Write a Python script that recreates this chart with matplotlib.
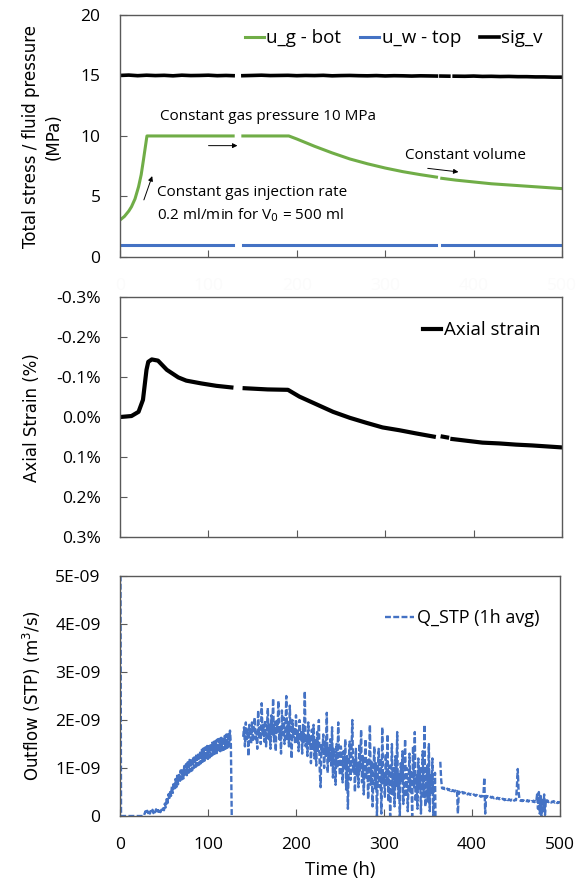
import numpy as np
import matplotlib
matplotlib.use('Agg')
import matplotlib.pyplot as plt
from matplotlib.ticker import FuncFormatter

nan = np.nan

# --- top panel: stress / pressures (MPa) ---
ug_t = [0, 5, 10, 13, 17, 21, 24, 26.5, 28.5, 30.5, 60, 90, 128, nan, 139, 160, 191, 200, 220, 240,
        260, 280, 300, 320, 340, 358, nan, 364, 380, 400, 420, 440, 460, 480, 500]
ug_v = [3.05, 3.35, 3.8, 4.15, 4.8, 5.8, 6.8, 8.0, 9.0, 10.0, 10.0, 10.0, 10.0, nan, 10.0, 10.0, 10.0,
        9.75, 9.15, 8.6, 8.1, 7.7, 7.35, 7.05, 6.8, 6.6, nan, 6.5, 6.35, 6.2, 6.05, 5.95,
        5.85, 5.75, 5.65]

uw_t = [0, 128, nan, 139, 358, nan, 364, 500]
uw_v = [1.0, 1.0, nan, 1.0, 1.0, nan, 1.0, 1.0]

sig_t = [0, 10, 20, 30, 40, 50, 60, 70, 80, 90, 100, 110, 120, 128, nan,
         139, 150, 160, 170, 180, 190, 200, 210, 220, 230, 240, 250, 260, 270, 280,
         290, 300, 310, 320, 330, 340, 350, 358, nan, 363, 372, nan,
         378, 390, 400, 410, 420, 430, 440, 450, 460, 470, 480, 490, 500]
sig_v = [15.0, 15.03, 14.98, 15.02, 14.99, 15.01, 14.97, 15.02, 14.99, 15.0, 15.02, 14.98, 15.0, 14.98, nan,
         14.98, 15.0, 15.02, 14.99, 15.0, 15.01, 14.98, 15.0, 14.99, 15.01, 14.97, 14.99, 15.0, 14.98, 14.97,
         14.99, 14.96, 14.98, 14.97, 14.95, 14.97, 14.96, 14.95, nan, 14.95, 14.94, nan,
         14.94, 14.93, 14.95, 14.92, 14.93, 14.91, 14.92, 14.9, 14.9, 14.88, 14.88, 14.86, 14.86]

# --- middle panel: axial strain (%) ---
ax_t = [0, 13, 21, 26, 30, 32, 36, 43, 53, 66, 75, 92, 109, 126, nan,
        141, 167, 190, 203, 224, 241, 260, 278, 297, 316, 335, 355, nan,
        365, 370, nan, 376, 391, 410, 429, 448, 466, 500]
ax_v = [0.0, -0.0025, -0.013, -0.043, -0.118, -0.138, -0.144, -0.141, -0.118, -0.099, -0.091,
        -0.084, -0.078, -0.074, nan,
        -0.072, -0.069, -0.068, -0.051, -0.030, -0.013, 0.002, 0.014, 0.026, 0.033, 0.041, 0.049, nan,
        0.049, 0.051, nan, 0.055, 0.059, 0.064, 0.066, 0.069, 0.071, 0.076]

# --- bottom panel: outflow (1E-09 m3/s) ---
q0_t = [0, 0.6, 1.2, 27]
q0_v = [5.0, 5.0, 0.0, 0.0]

qa_t = np.arange(28, 127, 1)
qa_v = [0.05, 0.10, 0.04, 0.11, 0.06, 0.12, 0.05, 0.10, 0.07, 0.13, 0.06,
        0.11, 0.08, 0.14, 0.07, 0.12, 0.09, 0.15, 0.08, 0.13, 0.10, 0.16,
        0.12, 0.26, 0.18, 0.35, 0.27, 0.45, 0.34, 0.53, 0.42, 0.62,
        0.48, 0.70, 0.54, 0.77, 0.60, 0.84, 0.66, 0.89, 0.71, 0.95,
        0.76, 0.99, 0.78, 1.04, 0.83, 1.08, 0.85, 1.12, 0.90, 1.17,
        0.93, 1.19, 0.95, 1.23, 1.00, 1.26, 1.02, 1.30, 1.05, 1.32,
        1.07, 1.35, 1.10, 1.38, 1.13, 1.41, 1.15, 1.43, 1.17, 1.46,
        1.19, 1.48, 1.22, 1.51, 1.25, 1.53, 1.28, 1.55, 1.30, 1.57,
        1.31, 1.60, 1.33, 1.61, 1.35, 1.63, 1.37, 1.65, 1.38, 1.67,
        1.40, 1.70, 1.42, 1.74, 1.45, 1.78, 1.50]

qb_t = np.arange(140, 359, 1)
qb_v = [1.65, 1.85, 1.45, 1.95, 1.6, 1.8, 1.25, 1.9, 1.7, 1.5,
        1.95, 1.55, 1.8, 2.05, 1.6, 1.75, 1.4, 2.2, 1.65, 1.85,
        1.5, 2.35, 1.7, 1.9, 1.55, 2.0, 1.45, 1.85, 2.25, 1.6,
        1.9, 1.4, 2.1, 1.7, 2.45, 1.55, 1.95, 1.35, 2.0, 1.75,
        2.4, 1.6, 1.85, 1.3, 2.2, 1.7, 2.05, 1.5, 1.8, 2.5,
        1.6, 1.95, 1.45, 2.3, 1.7, 1.2, 2.0, 1.65, 1.85, 1.5,
        2.1, 1.55, 1.8, 1.35, 2.0, 1.6, 1.75, 1.3, 1.9, 1.55,
        2.6, 1.45, 1.7, 1.25, 1.95, 1.5, 1.65, 1.1, 1.8, 1.4,
        1.9, 1.2, 1.6, 1.05, 1.75, 1.35, 2.0, 0.95, 0.6, 1.5,
        1.3, 1.7, 1.0, 1.55, 1.25, 2.15, 0.9, 1.45, 1.15, 1.6,
        1.05, 1.85, 0.8, 1.4, 1.2, 0.65, 1.5, 1.0, 1.95, 1.1,
        0.85, 1.45, 1.2, 0.7, 1.35, 1.0, 1.6, 0.55, 1.25, 0.15,
        1.15, 1.55, 0.75, 1.3, 2.0, 0.9, 1.2, 0.5, 1.4, 0.85,
        1.1, 0.6, 1.5, 0.95, 1.8, 0.7, 1.25, 0.45, 1.05, 1.6,
        0.8, 1.2, 0.35, 1.0, 1.9, 0.65, 1.15, 0.2, 0.9, 1.45,
        0.55, 1.1, 0.0, 0.95, 1.4, 0.6, 1.2, 0.05, 1.85, 0.7,
        0.9, 0.4, 1.3, 0.65, 1.7, 0.3, 1.05, 0.0, 0.8, 1.5,
        0.45, 1.0, 0.2, 1.25, 0.6, 1.75, 0.35, 0.9, 0.0, 1.1,
        0.7, 1.35, 0.25, 0.85, 1.6, 0.4, 1.0, 0.1, 0.75, 1.3,
        0.5, 0.95, 0.0, 1.45, 0.6, 1.75, 0.3, 0.85, 0.15, 1.2,
        0.55, 1.0, 0.05, 0.8, 1.35, 0.4, 1.9, 0.2, 0.7, 1.05,
        0.3, 1.5, 0.1, 0.85, 0.45, 1.2, 0.0, 0.65, 0.9]

qc_t = np.arange(364, 501, 1)
qc_v = [1.13, 0.75, 0.58, 0.57, 0.59, 0.56, 0.57, 0.55, 0.57, 0.54,   # 364-373
        0.56, 0.53, 0.55, 0.52, 0.54, 0.53, 0.51, 0.53, 0.50, 0.52,   # 374-383
        0.05, 0.51, 0.49, 0.51, 0.48, 0.50, 0.47, 0.49, 0.48, 0.46,   # 384-393
        0.48, 0.45, 0.47, 0.46, 0.44, 0.46, 0.45, 0.43, 0.45, 0.44,   # 394-403
        0.42, 0.44, 0.43, 0.41, 0.43, 0.42, 0.40, 0.42, 0.41, 0.43,   # 404-413
        0.80, 0.05, 0.42, 0.40, 0.41, 0.39, 0.41, 0.40, 0.38, 0.40,   # 414-423
        0.39, 0.37, 0.39, 0.38, 0.36, 0.38, 0.37, 0.35, 0.37, 0.36,   # 424-433
        0.34, 0.36, 0.35, 0.33, 0.35, 0.34, 0.36, 0.33, 0.35, 0.34,   # 434-443
        0.32, 0.34, 0.33, 0.35, 0.32, 0.34, 0.33, 0.60, 0.98, 0.50,   # 444-453
        0.34, 0.32, 0.33, 0.31, 0.33, 0.32, 0.30, 0.32, 0.31, 0.33,   # 454-463
        0.30, 0.32, 0.31, 0.29, 0.31, 0.30, 0.32, 0.29, 0.31, 0.30,   # 464-473
        0.45, 0.15, 0.50, 0.05, 0.42, 0.00, 0.38, 0.10, 0.45, 0.02,   # 474-483
        0.35, 0.30, 0.32, 0.29, 0.31, 0.30, 0.28, 0.30, 0.29, 0.31,   # 484-493
        0.28, 0.30, 0.29, 0.27, 0.29, 0.28, 0.30]                     # 494-500

q_t = np.concatenate([q0_t, qa_t, [127, 133], qb_t, [358.5, 361], qc_t])
q_v = np.concatenate([q0_v, qa_v, [0.0, nan], qb_v, [0.0, nan], qc_v]) * 1e-9

green = '#70AD47'
blue = '#4472C4'
spine_c = '#595959'
lab_font = ['Liberation Sans Narrow', 'DejaVu Sans']
txt_font = ['Open Sans', 'DejaVu Sans']
plt.rcParams['font.family'] = txt_font

fig = plt.figure(figsize=(5.76, 8.84), dpi=100)
ax1 = fig.add_axes([0.2083, 0.7093, 0.7674, 0.2738])
ax2 = fig.add_axes([0.2083, 0.3925, 0.7674, 0.2715])
ax3 = fig.add_axes([0.2083, 0.0769, 0.7639, 0.2715])

for ax in (ax1, ax2, ax3):
    for s in ax.spines.values():
        s.set_color(spine_c)
        s.set_linewidth(1.0)
    ax.tick_params(direction='in', length=5, color=spine_c, labelsize=12.5)
    ax.tick_params(axis='y', pad=14)
    ax.tick_params(axis='x', pad=15)
    ax.set_xlim(0, 500)
    ax.set_xticks([0, 100, 200, 300, 400, 500])

# top
ax1.plot(ug_t, ug_v, color=green, lw=2.2, label='u_g - bot')
ax1.plot(uw_t, uw_v, color=blue, lw=2.2, label='u_w - top')
ax1.plot(sig_t, sig_v, color='black', lw=2.6, label='sig_v')
ax1.set_ylim(0, 20)
ax1.set_yticks([0, 5, 10, 15, 20])
ax1.tick_params(axis='x', labelcolor='#fbfbfb')
ax1.legend(loc='upper right', ncol=3, frameon=False, handlelength=1.0,
           handletextpad=0.15, columnspacing=1.0, prop={'size': 13.5},
           bbox_to_anchor=(0.995, 1.01))
ax1.text(45, 11.6, 'Constant gas pressure 10 MPa', fontsize=11, va='center')
ax1.annotate('', xy=(136, 9.2), xytext=(97, 9.2),
             arrowprops=dict(arrowstyle='-|>', color='black', lw=0.7, mutation_scale=7))
ax1.text(322, 8.4, 'Constant volume', fontsize=11, va='center')
ax1.annotate('', xy=(386, 7.0), xytext=(345, 7.35),
             arrowprops=dict(arrowstyle='-|>', color='black', lw=0.7, mutation_scale=7))
ax1.text(42, 5.3, 'Constant gas injection rate', fontsize=11, va='center')
ax1.text(42, 3.45, '0.2 ml/min for V$_0$ = 500 ml', fontsize=11, va='center')
ax1.annotate('', xy=(37.5, 6.9), xytext=(26, 4.5),
             arrowprops=dict(arrowstyle='-|>', color='black', lw=0.7, mutation_scale=7))

# middle
ax2.plot(ax_t, ax_v, color='black', lw=3.0, label='Axial strain')
ax2.set_ylim(0.3, -0.3)
ax2.set_yticks([-0.3, -0.2, -0.1, 0.0, 0.1, 0.2, 0.3])
ax2.yaxis.set_major_formatter(FuncFormatter(lambda v, p: '{:.1f}%'.format(round(v, 1) + 0.0)))
ax2.tick_params(axis='x', labelbottom=False)
ax2.legend(loc='upper right', frameon=False, handlelength=1.0, handletextpad=0.15,
           prop={'size': 13.5}, bbox_to_anchor=(0.99, 0.97))

# bottom
ax3.plot(q_t, q_v, color=blue, lw=1.7, ls=(0, (2.5, 1.0)), label='Q_STP (1h avg)')
ax3.set_ylim(0, 5e-9)
ax3.set_yticks([0, 1e-9, 2e-9, 3e-9, 4e-9, 5e-9])
ax3.yaxis.set_major_formatter(FuncFormatter(lambda v, p: '0' if v == 0 else '{:.0E}'.format(v)))
ax3.legend(loc='upper right', frameon=False, handlelength=1.6, handletextpad=0.15,
           prop={'size': 13}, bbox_to_anchor=(0.99, 0.93))
ax3.set_xlabel('Time (h)', fontsize=13.5, labelpad=6)

fig.text(0.073, 0.846, 'Total stress / fluid pressure\n(MPa)', rotation=90, ha='center',
         va='center', fontsize=12, family=lab_font, linespacing=1.3)
fig.text(0.056, 0.528, 'Axial Strain (%)', rotation=90, ha='center', va='center',
         fontsize=12, family=lab_font)
fig.text(0.056, 0.2127, 'Outflow (STP) (m$^3$/s)', rotation=90, ha='center', va='center',
         fontsize=12, family=lab_font)

fig.savefig('out.png', dpi=100)
